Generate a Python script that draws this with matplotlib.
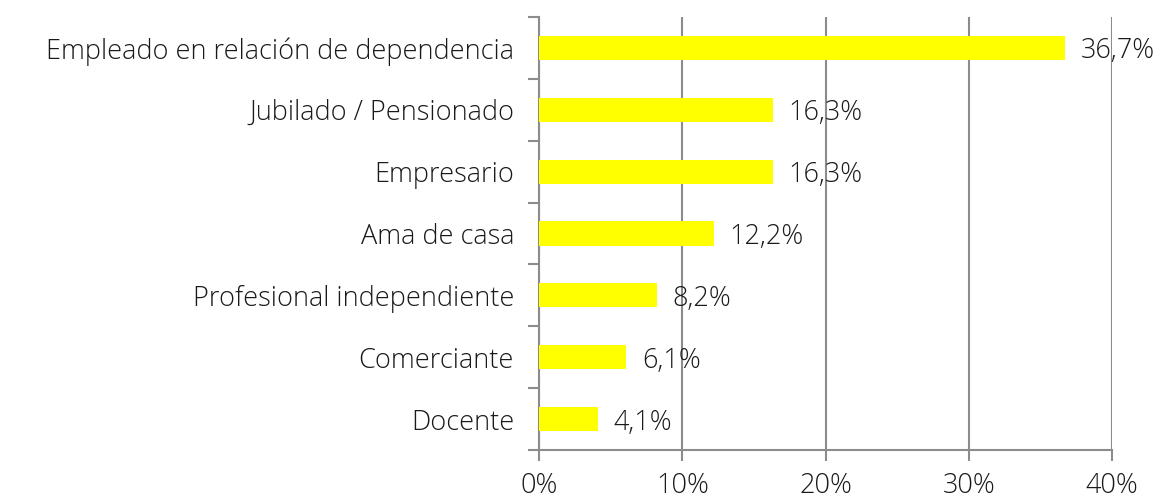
import matplotlib.pyplot as plt
from matplotlib.ticker import FuncFormatter

categorias = ["Empleado en relación de dependencia", "Jubilado / Pensionado", "Empresario",
              "Ama de casa", "Profesional independiente", "Comerciante", "Docente"]
valores = [36.7, 16.3, 16.3, 12.2, 8.2, 6.1, 4.1]
ticks_x = [0, 10, 20, 30, 40]

plt.rcParams['font.family'] = ['Open Sans', 'DejaVu Sans']
plt.rcParams['font.weight'] = 'light'

gris = '#8c8c8c'
texto = '#1a1a1a'
tam = 19.5

fig = plt.figure(figsize=(11.63, 4.98), dpi=100)
ax = fig.add_axes([0.4635, 0.0964, 0.4927, 0.8695])

pos = list(range(len(categorias)))
ax.barh(pos, valores, height=0.39, color='#ffff00', zorder=3)
ax.set_ylim(len(categorias) - 0.5, -0.5)
ax.set_xlim(0, 40)

# etiquetas de valor con coma decimal
for y, v in zip(pos, valores):
    ax.text(v + 1.1, y, ("%.1f%%" % v).replace(".", ","), va='center_baseline', ha='left',
            fontsize=tam, color=texto)

ax.set_yticks([p - 0.5 for p in pos] + [len(categorias) - 0.5])
ax.set_yticklabels([])
ax.set_yticks(pos, minor=True)
ax.set_yticklabels(categorias, minor=True, fontsize=tam, color=texto)
ax.tick_params(axis='y', which='minor', length=0, pad=18)
ax.tick_params(axis='y', which='major', length=8, width=1.5, color=gris, direction='out')

ax.set_xticks(ticks_x)
ax.xaxis.set_major_formatter(FuncFormatter(lambda x, p: "%d%%" % x))
ax.tick_params(axis='x', length=8, width=1.5, color=gris, labelsize=tam, labelcolor=texto, pad=8)

ax.grid(axis='x', color=gris, linewidth=1.5, zorder=0)
for s in ['top', 'right']:
    ax.spines[s].set_visible(False)
for s in ['left', 'bottom']:
    ax.spines[s].set_color(gris)
    ax.spines[s].set_linewidth(1.5)

plt.savefig("out.png", dpi=100)
